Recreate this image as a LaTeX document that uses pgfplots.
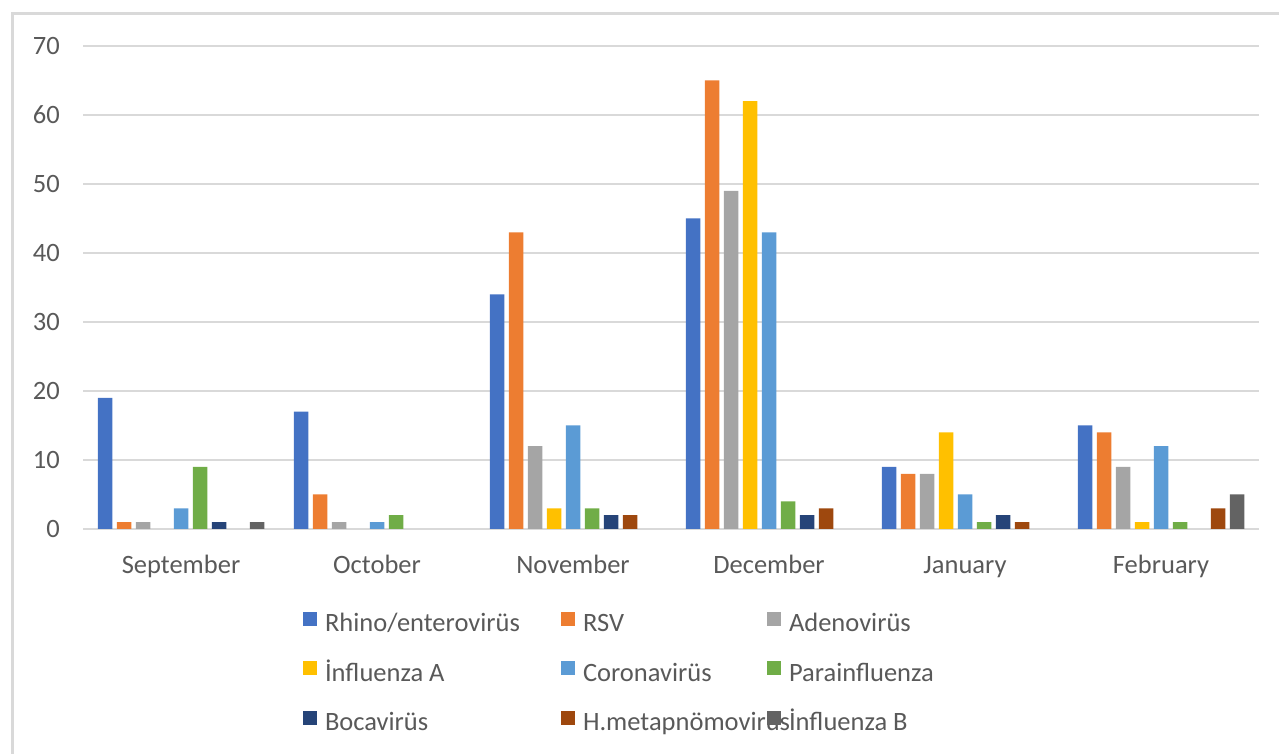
\documentclass[border=0pt]{standalone}
\usepackage{pgfplots}
\pgfplotsset{compat=1.18}
\usepackage{fontspec}
\setmainfont{Carlito}
\definecolor{c1}{HTML}{4472C4}
\definecolor{c2}{HTML}{ED7D31}
\definecolor{c3}{HTML}{A5A5A5}
\definecolor{c4}{HTML}{FFC000}
\definecolor{c5}{HTML}{5B9BD5}
\definecolor{c6}{HTML}{70AD47}
\definecolor{c7}{HTML}{264478}
\definecolor{c8}{HTML}{9E480E}
\definecolor{c9}{HTML}{636363}
\definecolor{txt}{HTML}{595959}
\definecolor{grd}{HTML}{D9D9D9}
\begin{document}
\begin{tikzpicture}[font=\fontsize{26.5bp}{32bp}\selectfont, x=1bp, y=1bp]
\path[use as bounding box] (0,0) rectangle (1279,754);
\draw[grd, line width=3bp] (12,0) -- (12,740) -- (1279,740);
\begin{axis}[
  at={(83bp,225bp)}, anchor=south west,
  scale only axis, width=1176bp, height=483bp,
  xmin=-0.5, xmax=5.5, ymin=0, ymax=70,
  ybar=4.5bp, bar width=14.5bp,
  xtick={0,...,5},
  xticklabels={September,October,November,December,January,February},
  ytick={0,10,...,70},
  axis line style={draw=none},
  major tick length=0pt,
  ymajorgrids, xmajorgrids=false,
  grid style={grd, line width=2bp},
  tick label style={text=txt, font=\fontsize{26.5bp}{32bp}\selectfont},
  /pgf/number format/assume math mode=true,
  xticklabel style={anchor=north, inner sep=0pt, text height=20bp, text depth=6bp, yshift=-24bp},
  yticklabel style={anchor=east, inner sep=0pt, xshift=-23bp},
  legend cell align=left,
  legend columns=3,
  legend image code/.code={\fill[#1] (0bp,-1bp) rectangle (14bp,13bp);},
  legend style={draw=none, fill=none, inner sep=0pt, outer sep=0pt,
    at={(0.1871,-0.1718)}, anchor=north west,
    text=txt, font=\fontsize{26.5bp}{32bp}\selectfont,
    nodes={inner sep=0pt, text height=20bp, text depth=6bp, align=flush left},
    row sep=23.5bp,
    /tikz/every odd column/.style={column sep=8bp},
    /tikz/every even column/.style={column sep=0bp},
    /tikz/column 2/.style={nodes={text width=236bp}},
    /tikz/column 4/.style={nodes={text width=184bp}}},
]
\addplot[fill=c1, draw=none] coordinates {(0,19) (1,17) (2,34) (3,45) (4,9) (5,15)};
\addplot[fill=c2, draw=none] coordinates {(0,1) (1,5) (2,43) (3,65) (4,8) (5,14)};
\addplot[fill=c3, draw=none] coordinates {(0,1) (1,1) (2,12) (3,49) (4,8) (5,9)};
\addplot[fill=c4, draw=none] coordinates {(2,3) (3,62) (4,14) (5,1)};
\addplot[fill=c5, draw=none] coordinates {(0,3) (1,1) (2,15) (3,43) (4,5) (5,12)};
\addplot[fill=c6, draw=none] coordinates {(0,9) (1,2) (2,3) (3,4) (4,1) (5,1)};
\addplot[fill=c7, draw=none] coordinates {(0,1) (2,2) (3,2) (4,2)};
\addplot[fill=c8, draw=none] coordinates {(2,2) (3,3) (4,1) (5,3)};
\addplot[fill=c9, draw=none] coordinates {(0,1) (5,5)};
\legend{Rhino/enterovirüs, RSV, Adenovirüs, İnfluenza A, Coronavirüs, Parainfluenza, Bocavirüs, H.metapnömovirüs, İnfluenza B}
\end{axis}
\end{tikzpicture}
\end{document}
